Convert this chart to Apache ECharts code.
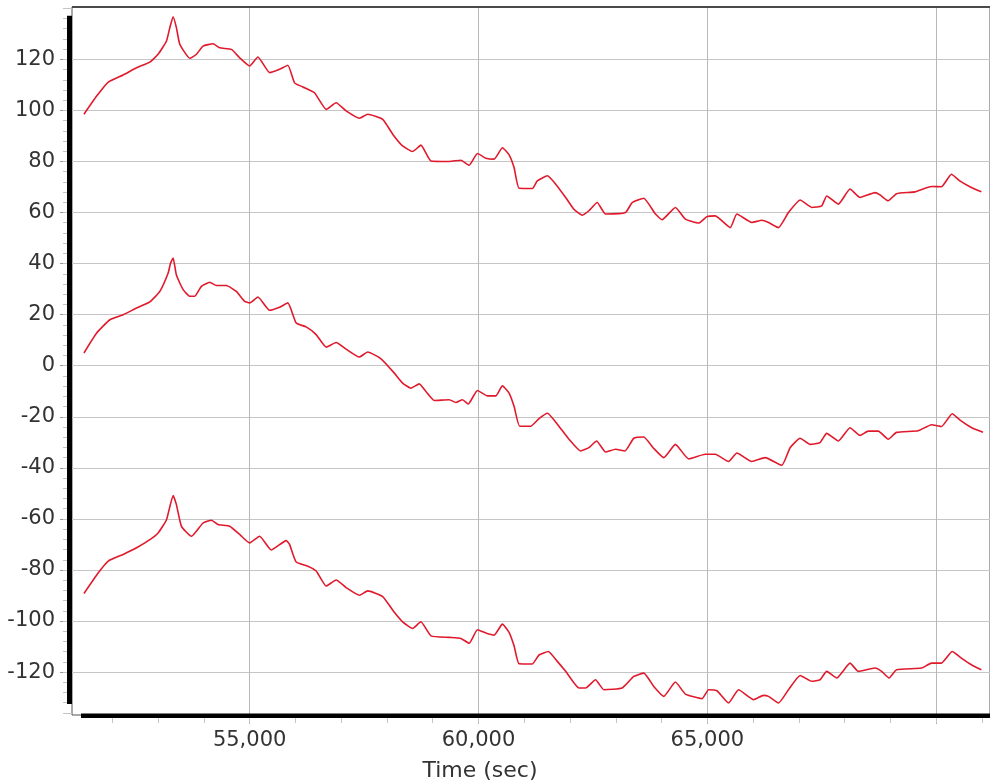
<!DOCTYPE html>
<html>
<head>
<meta charset="utf-8">
<script src="https://cdn.jsdelivr.net/npm/echarts@6/dist/echarts.min.js"></script>
<style>
  html, body { margin: 0; padding: 0; background: #ffffff; }
  #chart { width: 990px; height: 784px; }
</style>
</head>
<body>
<div id="chart"></div>
<script>
// Upper trace
const upperTime = [51381, 51658, 51911, 52237, 52530, 52820, 53000, 53184, 53256, 53328, 53400, 53474, 53692, 53838, 53982, 54200, 54346, 54601, 54782, 55000, 55181, 55436, 55654, 55835, 55981, 56162, 56417, 56672, 56890, 57108, 57398, 57580, 57907, 58125, 58342, 58560, 58742, 58961, 59360, 59615, 59796, 59977, 60159, 60341, 60522, 60668, 60777, 60886, 61176, 61285, 61507, 61686, 61904, 62085, 62267, 62412, 62593, 62776, 63212, 63357, 63611, 63866, 64010, 64302, 64520, 64810, 64991, 65173, 65500, 65645, 65972, 66190, 66336, 66554, 66772, 67027, 67280, 67498, 67607, 67862, 68117, 68335, 68662, 68771, 68952, 69133, 69534, 69897, 70114, 70332, 70514, 70768, 70986];
const upperValue = [98.5, 105.6, 111.1, 113.9, 116.7, 118.9, 122.0, 127.2, 132.4, 136.7, 132.4, 125.9, 120.4, 122.0, 125.2, 126.1, 124.5, 123.9, 120.6, 117.4, 120.9, 114.8, 116.1, 117.7, 110.8, 109.2, 106.9, 100.4, 103.0, 99.8, 96.9, 98.5, 96.5, 90.7, 86.1, 83.9, 86.4, 80.2, 80.0, 80.5, 78.5, 83.1, 81.3, 80.9, 85.4, 82.6, 77.6, 69.5, 69.4, 72.4, 74.4, 71.1, 65.9, 61.3, 59.0, 60.7, 63.9, 59.4, 60.0, 63.9, 65.6, 59.4, 57.2, 62.0, 57.4, 55.9, 58.4, 58.7, 54.1, 59.4, 56.1, 57.0, 56.1, 54.1, 60.0, 64.9, 62.0, 62.6, 66.5, 63.3, 69.2, 65.9, 67.8, 66.9, 64.6, 67.4, 68.1, 70.2, 70.1, 75.0, 72.4, 69.8, 68.1];

// Middle trace
const middleTime = [51381, 51658, 51947, 52237, 52530, 52820, 53038, 53220, 53270, 53328, 53400, 53547, 53692, 53801, 53946, 54128, 54273, 54491, 54709, 54891, 55000, 55181, 55436, 55654, 55835, 56017, 56235, 56453, 56672, 56890, 57108, 57398, 57580, 57871, 58161, 58342, 58524, 58706, 58851, 59033, 59360, 59506, 59651, 59775, 59977, 60195, 60377, 60522, 60668, 60777, 60900, 61140, 61322, 61507, 61722, 61977, 62231, 62412, 62582, 62776, 62994, 63198, 63393, 63611, 63829, 64047, 64302, 64592, 64955, 65173, 65463, 65645, 65972, 66263, 66627, 66808, 67027, 67245, 67462, 67607, 67862, 68117, 68335, 68517, 68735, 68952, 69133, 69606, 69897, 70114, 70350, 70514, 70768, 71022];
const middleValue = [5.0, 12.8, 18.0, 20.0, 22.6, 25.0, 29.1, 36.3, 40.0, 42.2, 35.5, 29.8, 27.2, 27.2, 31.1, 32.7, 31.4, 31.4, 29.1, 25.2, 24.6, 26.9, 21.7, 22.9, 24.6, 16.7, 15.2, 12.2, 7.3, 9.1, 6.5, 3.4, 5.4, 2.7, -2.9, -6.8, -8.8, -7.1, -10.1, -13.6, -13.3, -14.4, -13.3, -15.0, -9.7, -11.8, -11.8, -7.9, -10.7, -15.9, -23.7, -23.7, -20.7, -18.6, -22.9, -28.8, -33.4, -32.1, -29.5, -33.8, -32.7, -33.4, -28.4, -27.9, -32.4, -36.0, -30.8, -36.5, -34.7, -34.7, -37.5, -34.2, -37.5, -36.0, -39.0, -32.1, -28.4, -30.8, -30.1, -26.5, -29.5, -24.3, -27.3, -25.6, -25.6, -28.8, -26.1, -25.5, -23.1, -23.8, -18.8, -21.2, -24.2, -26.1];

// Lower trace
const lowerTime = [51381, 51694, 51911, 52237, 52530, 52820, 53000, 53184, 53328, 53400, 53510, 53729, 53982, 54164, 54310, 54564, 54782, 55000, 55218, 55472, 55799, 55872, 56017, 56271, 56453, 56672, 56890, 57108, 57398, 57580, 57907, 58161, 58342, 58560, 58742, 58961, 59360, 59615, 59796, 59977, 60159, 60341, 60522, 60668, 60777, 60886, 61176, 61322, 61525, 61722, 61904, 62194, 62340, 62557, 62739, 63140, 63393, 63611, 63829, 64047, 64302, 64520, 64882, 65027, 65209, 65463, 65681, 66009, 66227, 66336, 66554, 66772, 67027, 67280, 67462, 67607, 67826, 68117, 68299, 68662, 68807, 68970, 69133, 69679, 69897, 70114, 70350, 70550, 70768, 70986];
const lowerValue = [-89.2, -81.1, -76.5, -73.9, -71.3, -68.1, -65.5, -60.3, -50.8, -54.4, -62.9, -66.8, -61.6, -60.5, -62.2, -62.9, -66.1, -69.4, -66.8, -72.2, -68.5, -70.0, -76.9, -78.5, -80.4, -86.3, -83.9, -86.9, -89.9, -88.2, -90.4, -96.6, -100.3, -102.9, -100.3, -105.8, -106.4, -106.8, -108.7, -103.4, -104.7, -105.5, -101.2, -104.4, -109.7, -116.7, -116.8, -113.3, -111.9, -115.8, -119.7, -126.2, -126.2, -123.0, -126.9, -126.2, -121.7, -120.4, -125.6, -129.5, -123.9, -128.6, -130.4, -126.9, -127.3, -132.1, -126.9, -130.8, -129.1, -129.5, -132.1, -126.9, -121.3, -123.6, -123.0, -119.7, -122.3, -116.5, -119.7, -118.4, -119.7, -122.3, -119.1, -118.4, -116.5, -116.5, -111.9, -114.5, -117.1, -119.1];

// Axis labels and tick positions
const yTickLabels = [-120, -100, -80, -60, -40, -20, 0, 20, 40, 60, 80, 100, 120];
const xTickLabels = [55000, 60000, 65000];
const xGridValues = [55000, 60000, 65000, 70000];
const xAxisTitle = 'Time (sec)';

// Visible axis ranges
const xMin = 51119, xMax = 71175;
const yMin = -136.8, yMax = 140.5;

const xMinorTicks = [];
for (let t = 52000; t <= 71000; t += 1000) xMinorTicks.push(t);
const yMinorTicks = [];
for (let v = -136; v <= 140; v += 4) yMinorTicks.push(v);

function pairs(xs, ys) { return xs.map((x, i) => [x, ys[i]]); }
function withCommas(v) { return String(v).replace(/\B(?=(\d{3})+(?!\d))/g, ','); }

const FONT = 'DejaVu Sans';
const LINE_RED = '#e01a2c';

const chart = echarts.init(document.getElementById('chart'), null, { renderer: 'canvas' });

const baseSeries = (name, xs, ys) => ({
  name: name,
  type: 'line',
  xAxisIndex: 0,
  yAxisIndex: 0,
  data: pairs(xs, ys),
  showSymbol: false,
  smooth: 0.15,
  lineStyle: { color: LINE_RED, width: 1.6 },
  animation: false
});

chart.setOption({
  animation: false,
  grid: {
    left: 72, top: 7, width: 920, height: 708,
    show: true, borderColor: '#555555', borderWidth: 1,
    containLabel: false
  },
  xAxis: [
    {
      type: 'value', min: xMin, max: xMax, splitNumber: 4,
      position: 'bottom',
      axisLine: { show: false, onZero: false },
      axisTick: { show: true, customValues: xGridValues, length: 9, lineStyle: { color: '#aaaaaa' } },
      axisLabel: {
        customValues: xTickLabels, margin: 15,
        fontFamily: FONT, fontSize: 21, color: '#333333',
        formatter: v => (xTickLabels.indexOf(v) >= 0 ? withCommas(v) : '')
      },
      splitLine: { show: true, lineStyle: { color: '#b8b8b8', width: 1 } }
    },
    {
      type: 'value', min: xMin, max: xMax, position: 'bottom',
      axisLine: { show: false, onZero: false },
      axisTick: { show: true, customValues: xMinorTicks, length: 8, lineStyle: { color: '#c4c4c4' } },
      axisLabel: { show: false },
      splitLine: { show: false }
    }
  ],
  yAxis: [
    {
      type: 'value', min: yMin, max: yMax, splitNumber: 14,
      position: 'left',
      axisLine: { show: false, onZero: false },
      axisTick: { show: true, customValues: yTickLabels, length: 12, lineStyle: { color: '#999999' } },
      axisLabel: {
        customValues: yTickLabels, margin: 17,
        fontFamily: FONT, fontSize: 21, color: '#333333',
        formatter: v => (yTickLabels.indexOf(v) >= 0 ? String(v) : '')
      },
      splitLine: { show: true, lineStyle: { color: '#c6c6c6', width: 1 } }
    },
    {
      type: 'value', min: yMin, max: yMax, position: 'left',
      axisLine: { show: false, onZero: false },
      axisTick: { show: true, customValues: yMinorTicks, length: 9, lineStyle: { color: '#c4c4c4' } },
      axisLabel: { show: false },
      splitLine: { show: false }
    }
  ],
  series: [
    baseSeries('upper', upperTime, upperValue),
    baseSeries('middle', middleTime, middleValue),
    baseSeries('lower', lowerTime, lowerValue)
  ]
});

// Range frame: thick bars spanning the extent of the data on each axis
const allValues = upperValue.concat(middleValue, lowerValue);
const dataTop = Math.max.apply(null, allValues);
const dataBottom = Math.min.apply(null, allValues);
const firstTime = Math.min(upperTime[0], middleTime[0], lowerTime[0]);

const finder = { xAxisIndex: 0, yAxisIndex: 0 };
const pTop = chart.convertToPixel(finder, [firstTime, dataTop]);
const pBottom = chart.convertToPixel(finder, [firstTime, dataBottom]);
const pAxisEnd = chart.convertToPixel(finder, [xMax, yMin]);
const gridLeft = 72, gridTop = 7, gridBottom = pAxisEnd[1];

chart.setOption({
  graphic: [
    {
      type: 'line', silent: true, z: 100,
      shape: { x1: gridLeft, y1: gridTop, x2: 990, y2: gridTop },
      style: { stroke: '#4a4a4a', lineWidth: 2 }
    },
    {
      type: 'rect', silent: true, z: 100,
      shape: { x: gridLeft - 5, y: pTop[1] - 1, width: 5, height: pBottom[1] - pTop[1] + 2 },
      style: { fill: '#000000' }
    },
    {
      type: 'rect', silent: true, z: 100,
      shape: { x: pTop[0] - 3, y: gridBottom - 1.5, width: 990 - pTop[0] + 3, height: 4.5 },
      style: { fill: '#000000' }
    },
    {
      type: 'text', silent: true, z: 100,
      x: 480, y: 771,
      style: {
        text: xAxisTitle, fontFamily: FONT, fontSize: 22, fill: '#333333',
        align: 'center', verticalAlign: 'middle'
      }
    }
  ]
});
</script>
</body>
</html>
